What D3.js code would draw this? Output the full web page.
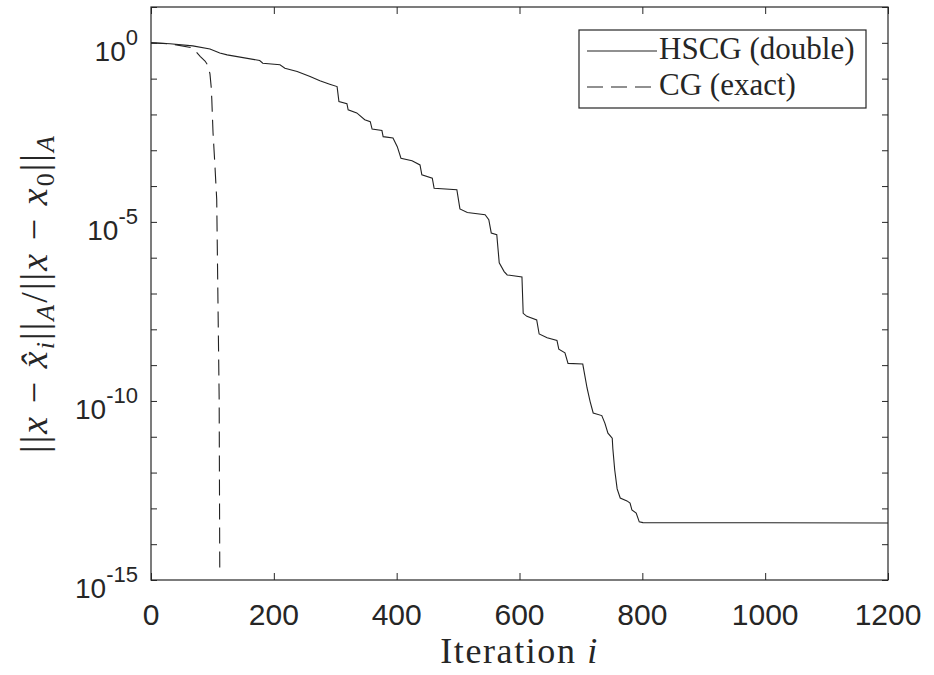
<!DOCTYPE html>
<html>
<head>
<meta charset="utf-8">
<script src="https://cdn.jsdelivr.net/npm/d3@7"></script>
<style>
  html, body { margin: 0; padding: 0; background: #fff; }
  svg { display: block; }
</style>
</head>
<body>
<div id="chart"></div>
<script>
// HSCG (double): relative A-norm error per iteration
const hscgIter = [0, 31, 68, 96, 112, 124, 177, 182, 210, 218, 238, 259, 275, 291, 303, 306, 319, 321,
  335, 348, 357, 360, 376, 378, 394, 401, 407, 425, 438, 441, 458, 461, 498, 503, 515, 544, 550, 554,
  563, 567, 575, 580, 604, 606, 612, 628, 632, 645, 661, 664, 674, 679, 703, 710, 715, 720, 734, 739,
  744, 751, 752, 755, 759, 764, 775, 780, 783, 790, 795, 801, 1200];
const hscgErr = [1.0, 0.94, 0.82, 0.67, 0.52, 0.46, 0.32, 0.27, 0.243, 0.196, 0.158, 0.115, 0.087, 0.070,
  0.060, 0.023, 0.020, 0.0135, 0.011, 7.1e-3, 6.3e-3, 3.9e-3, 3.55e-3, 2.4e-3, 2.2e-3, 1.26e-3, 6.0e-4,
  5.1e-4, 3.9e-4, 2.05e-4, 1.66e-4, 8.7e-5, 7.9e-5, 2.3e-5, 1.82e-5, 1.58e-5, 1.15e-5, 4.9e-6, 4.4e-6,
  7.2e-7, 4.1e-7, 3.3e-7, 2.9e-7, 2.8e-8, 2.3e-8, 1.83e-8, 7.4e-9, 5.8e-9, 4.9e-9, 2.8e-9, 2.2e-9,
  1.12e-9, 1.07e-9, 2.3e-10, 9.6e-11, 4.6e-11, 3.9e-11, 2.4e-11, 1.26e-11, 9.1e-12, 4.6e-12, 1.2e-12,
  3.5e-13, 1.95e-13, 1.62e-13, 1.41e-13, 9.1e-14, 7.4e-14, 4.2e-14, 4.0e-14, 3.9e-14];

// CG (exact)
const cgIter = [0, 31, 68, 80, 88, 93, 96, 98, 99, 101, 104, 107, 109, 111, 112];
const cgErr = [1.0, 0.94, 0.72, 0.42, 0.31, 0.23, 0.135, 0.059, 0.026, 3.1e-3, 4e-4, 4.2e-5, 6.6e-8,
  1.1e-10, 1.4e-15];

const xTicks = [0, 200, 400, 600, 800, 1000, 1200];
const yExponents = d3.range(-15, 2);          // tick at every decade
const yLabelExponents = [0, -5, -10, -15];
const legendLabels = ['HSCG (double)', 'CG (exact)'];

const W = 934, H = 675;
const margin = { top: 7, right: 46, bottom: 95, left: 151 };
const innerW = W - margin.left - margin.right;
const innerH = H - margin.top - margin.bottom;
const ink = '#262626';

const svg = d3.select('#chart').append('svg')
  .attr('width', W).attr('height', H);

const g = svg.append('g')
  .attr('transform', `translate(${margin.left},${margin.top})`);

const x = d3.scaleLinear().domain([0, 1200]).range([0, innerW]);
const y = d3.scaleLog().domain([1e-15, 1e1]).range([innerH, 0]);

g.append('defs').append('clipPath').attr('id', 'plot-clip')
  .append('rect').attr('width', innerW).attr('height', innerH);

// Curves
const line = d3.line().x(d => x(d[0])).y(d => y(d[1]));
const plotG = g.append('g').attr('clip-path', 'url(#plot-clip)');

plotG.append('path')
  .datum(cgIter.map((it, i) => [it, cgErr[i]]))
  .attr('d', line)
  .attr('fill', 'none').attr('stroke', '#222').attr('stroke-width', 1.1)
  .attr('stroke-dasharray', '16,8');

plotG.append('path')
  .datum(hscgIter.map((it, i) => [it, hscgErr[i]]))
  .attr('d', line)
  .attr('fill', 'none').attr('stroke', '#222').attr('stroke-width', 1.1);

// Axes: ticks inward on all four sides, no default labels
const tickX = 7, tickY = 6;
const yTickVals = yExponents.map(e => Math.pow(10, e));

g.append('g').attr('transform', `translate(0,${innerH})`)
  .call(d3.axisBottom(x).tickValues(xTicks).tickSize(-tickX).tickFormat(''));
g.append('g')
  .call(d3.axisTop(x).tickValues(xTicks).tickSize(-tickX).tickFormat(''));
g.append('g')
  .call(d3.axisLeft(y).tickValues(yTickVals).tickSize(-tickY).tickFormat(''));
g.append('g').attr('transform', `translate(${innerW},0)`)
  .call(d3.axisRight(y).tickValues(yTickVals).tickSize(-tickY).tickFormat(''));

g.selectAll('.domain').remove();
g.selectAll('.tick line').attr('stroke', ink).attr('stroke-width', 1);

g.append('rect')
  .attr('width', innerW).attr('height', innerH)
  .attr('fill', 'none').attr('stroke', ink).attr('stroke-width', 1.2);

// Tick labels
g.selectAll('.xlab').data(xTicks).join('text')
  .attr('class', 'xlab')
  .attr('x', d => x(d)).attr('y', innerH + 45)
  .attr('text-anchor', 'middle')
  .attr('font-family', 'Liberation Sans, Arial, sans-serif')
  .attr('font-size', 30).attr('fill', ink)
  .text(d => d);

const ylab = g.selectAll('.ylab').data(yLabelExponents).join('text')
  .attr('class', 'ylab')
  .attr('x', -13).attr('y', d => y(Math.pow(10, d)) + 18)
  .attr('text-anchor', 'end')
  .attr('font-family', 'Liberation Sans, Arial, sans-serif')
  .attr('font-size', 28).attr('fill', ink);
ylab.append('tspan').text('10');
ylab.append('tspan').attr('dy', -16).attr('font-size', 22).text(d => d);

// stretch a text's spacing to a target width, then centre it on cx
function fitWidth(sel, target, cx, nGaps) {
  const w0 = sel.node().getBBox().width;
  sel.style('letter-spacing', ((target - w0) / nGaps) + 'px');
  const bb = sel.node().getBBox();
  sel.attr('x', cx - bb.width / 2);
}

// Axis titles (LaTeX-like, serif italic for math)
const serif = 'Liberation Serif, Times New Roman, serif';

const xTitle = svg.append('text')
  .attr('x', 0).attr('y', 663)
  .attr('font-family', serif).attr('font-size', 36).attr('fill', ink);
xTitle.append('tspan').text('Iteration ');
xTitle.append('tspan').attr('font-style', 'italic').text('i');
fitWidth(xTitle, 157, margin.left + innerW / 2, 10);

const yTitleG = svg.append('g')
  .attr('transform', `translate(47,${margin.top + innerH / 2}) rotate(-90)`);
const yTitle = yTitleG.append('text')
  .attr('x', 0).attr('y', 0)
  .attr('font-family', serif).attr('font-size', 38).attr('fill', ink);

const parts = [
  { t: '||' }, { t: 'x', i: true }, { t: ' − ' }, { t: 'x̂', i: true },
  { t: 'i', i: true, sub: true }, { t: '||' }, { t: 'A', i: true, sub: true },
  { t: '/||' }, { t: 'x', i: true }, { t: ' − ' }, { t: 'x', i: true },
  { t: '0', sub: true }, { t: '||' }, { t: 'A', i: true, sub: true }
];
let wasSub = false;
parts.forEach(p => {
  const ts = yTitle.append('tspan').text(p.t);
  if (p.i) ts.attr('font-style', 'italic');
  if (p.sub) ts.attr('font-size', 26);
  if (p.sub && !wasSub) ts.attr('dy', 7);
  if (!p.sub && wasSub) ts.attr('dy', -7);
  wasSub = !!p.sub;
});
fitWidth(yTitle, 317, 0, 22);

// Legend
const leg = svg.append('g').attr('transform', 'translate(579,30)');
leg.append('rect')
  .attr('width', 287).attr('height', 78)
  .attr('fill', '#fff').attr('stroke', ink).attr('stroke-width', 1.2);

legendLabels.forEach((lab, i) => {
  const cy = 21 + i * 36;
  leg.append('line')
    .attr('x1', 8).attr('x2', 78).attr('y1', cy).attr('y2', cy)
    .attr('stroke', '#222').attr('stroke-width', 1.1)
    .attr('stroke-dasharray', i === 1 ? '16,8' : null);
  leg.append('text')
    .attr('x', 80).attr('y', cy + 8)
    .attr('font-family', serif).attr('font-size', 31).attr('fill', ink)
    .text(lab);
});
</script>
</body>
</html>
